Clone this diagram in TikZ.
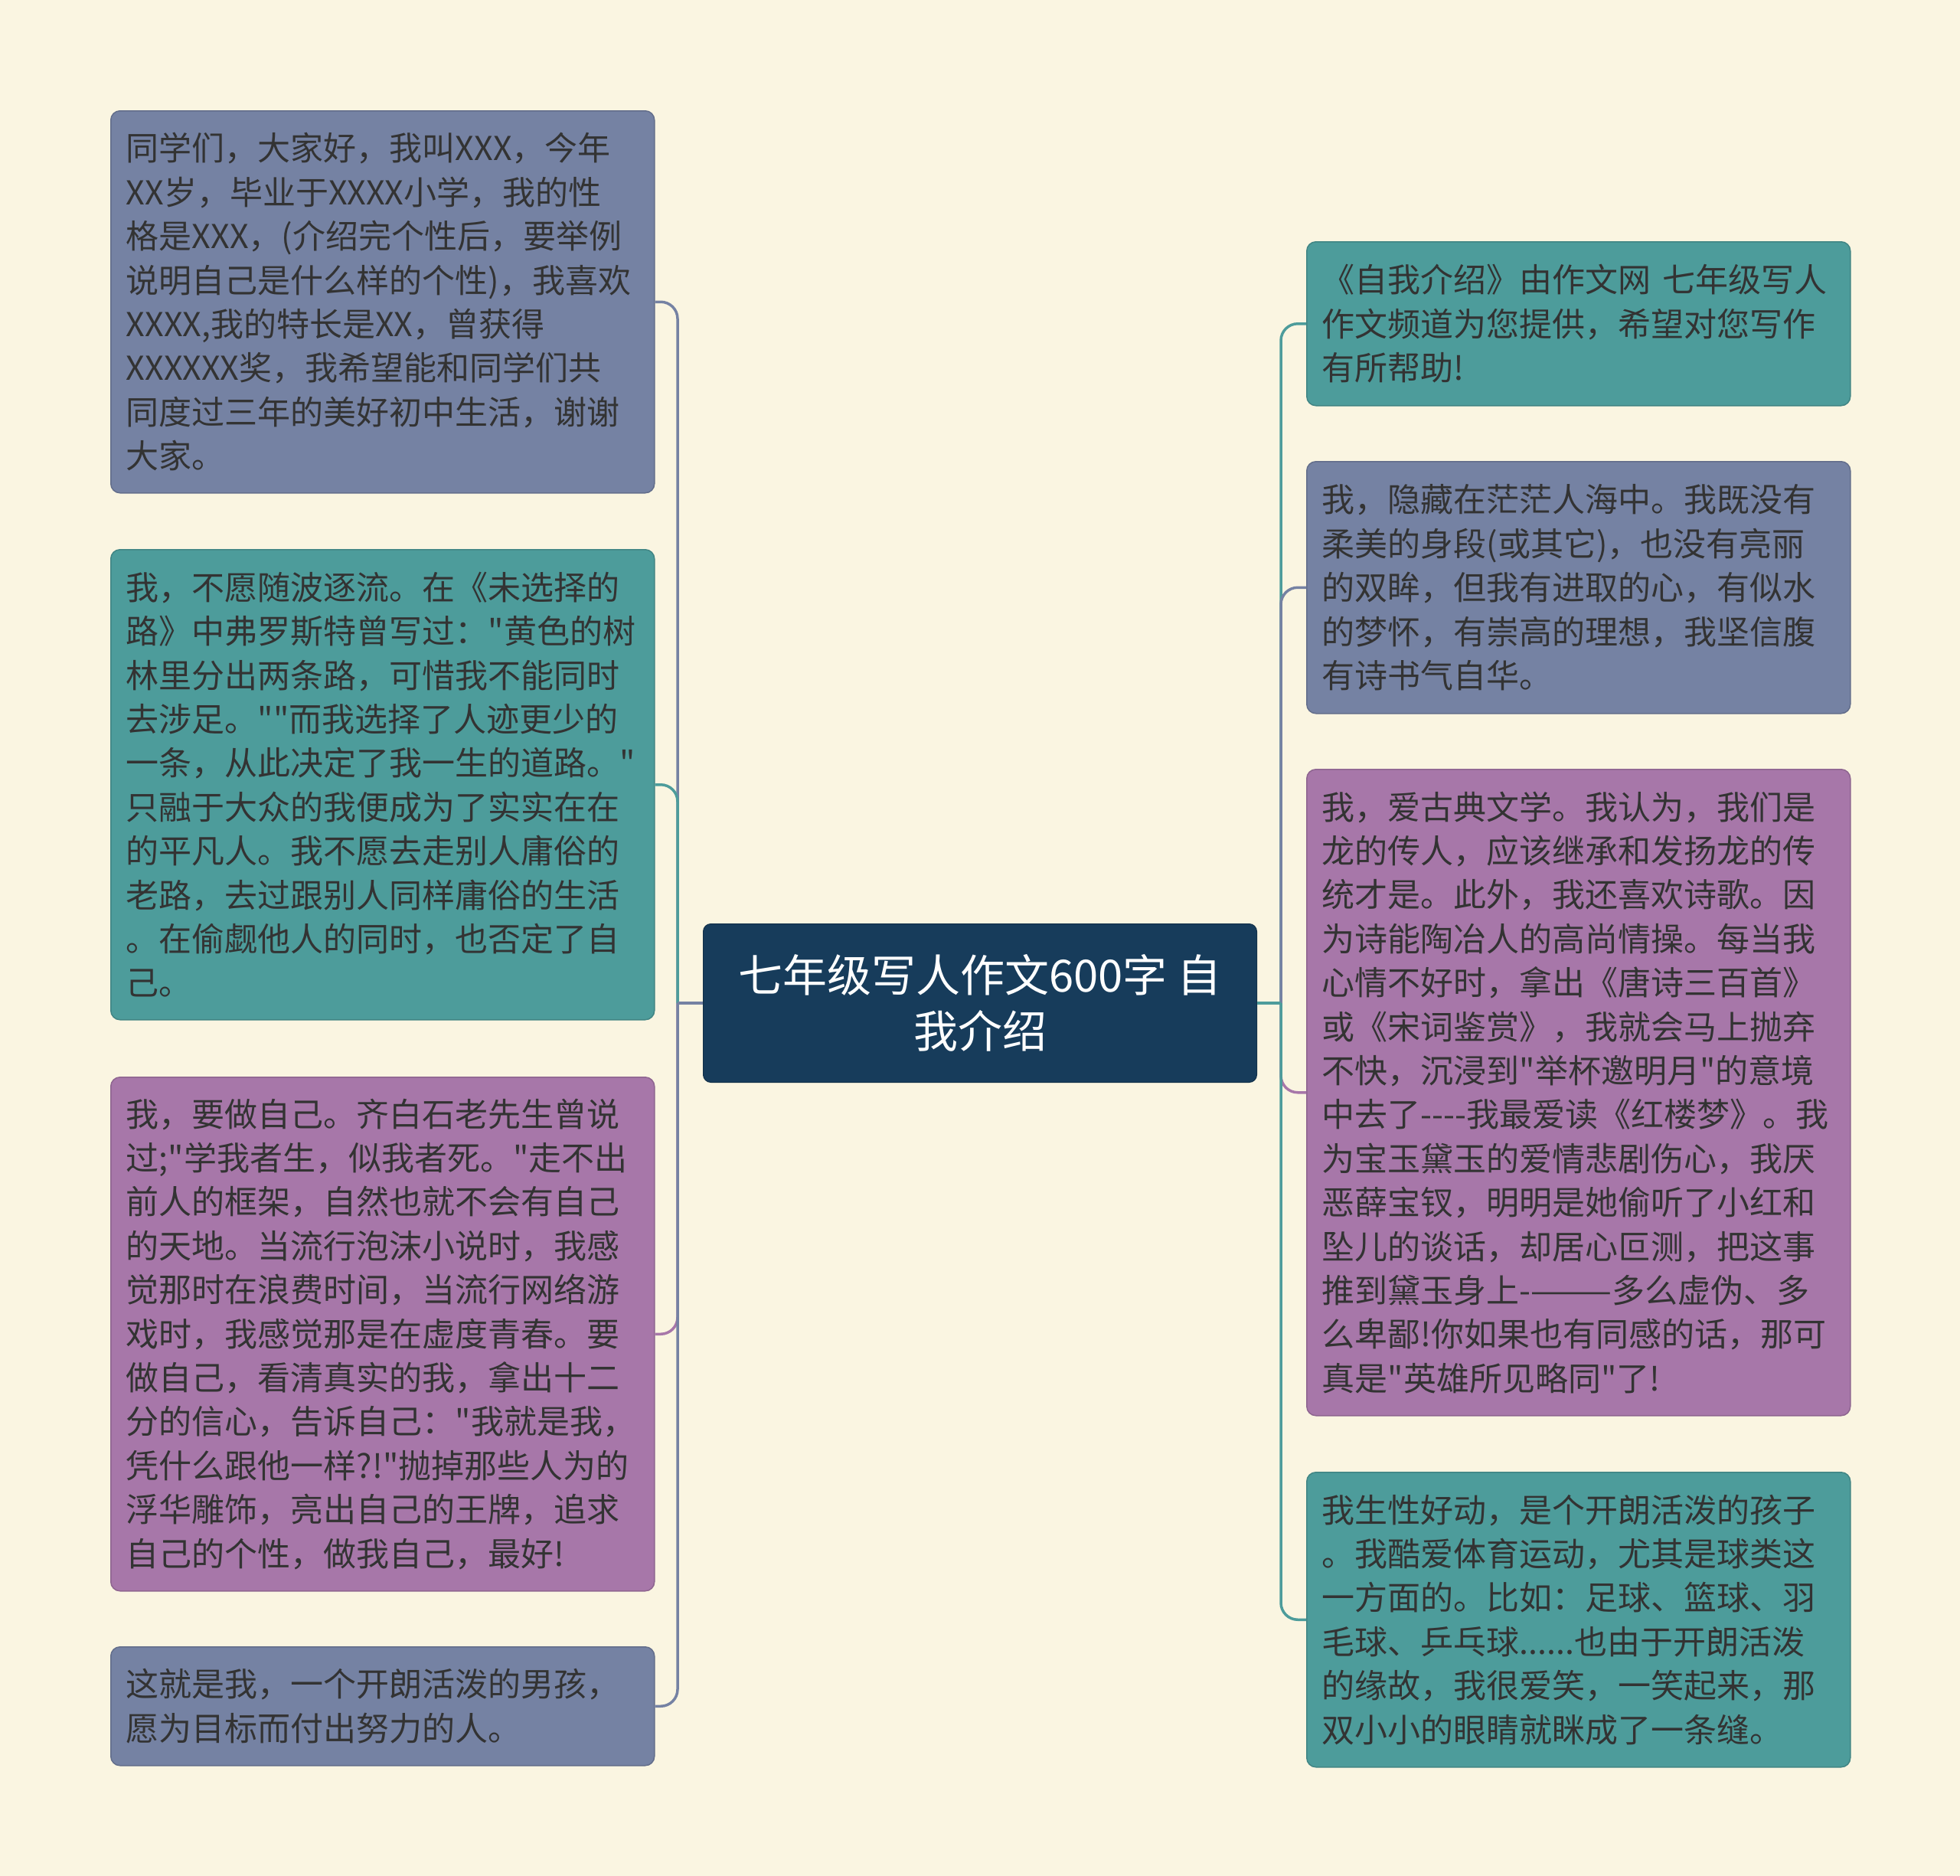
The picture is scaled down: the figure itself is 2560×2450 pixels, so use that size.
\documentclass[tikz,border=0pt]{standalone}
\usepackage{fontspec}
\newfontfamily\cjk{Noto Sans CJK SC}
\definecolor{bg}{HTML}{FAF5E1}
\definecolor{rootblue}{HTML}{173C5B}
\definecolor{cblue}{HTML}{7582A3}
\definecolor{cteal}{HTML}{4D9C9B}
\definecolor{cpurple}{HTML}{A777A9}
\definecolor{txt}{HTML}{333333}

\begin{document}
\begin{tikzpicture}[x=1pt, y=-1pt,
	topic/.style={fill=rootblue, draw=rootblue!80!black, line width=1pt, rounded corners=10pt, text=white, align=center, minimum width=723pt, minimum height=207pt, inner sep=0pt, font=\cjk\fontsize{58}{73}\selectfont},
	leaf/.style={fill=#1, draw=#1!85!black, line width=1.5pt, rounded corners=12pt, text=txt, align=left, text width=670pt, inner xsep=20pt, inner ysep=0pt, anchor=north west, font=\cjk\fontsize{43}{57.4}\selectfont},
	link/.style={line width=3.5pt, rounded corners=22pt}]

	  \fill [ bg ] (0,0) rectangle (2560,2450);

	  \node [ topic ] (root) at (1280,1310) {七年级写人作文600字 自\\我介绍};
	  \coordinate (jl) at (885,1310);
	  \coordinate (jr) at (1673,1310);

	  \node [ leaf=cblue, minimum height=499pt ] (L1) at (144,144) {同学们，大家好，我叫XXX，今年\\XX岁，毕业于XXXX小学，我的性\\格是XXX，(介绍完个性后，要举例\\说明自己是什么样的个性)，我喜欢\\XXXX,我的特长是XX，曾获得\\XXXXXX奖，我希望能和同学们共\\同度过三年的美好初中生活，谢谢\\大家。};
	  \node [ leaf=cteal, minimum height=614pt ] (L2) at (144,717) {我，不愿随波逐流。在《未选择的\\路》中弗罗斯特曾写过："黄色的树\\林里分出两条路，可惜我不能同时\\去涉足。""而我选择了人迹更少的\\一条，从此决定了我一生的道路。"\\只融于大众的我便成为了实实在在\\的平凡人。我不愿去走别人庸俗的\\老路，去过跟别人同样庸俗的生活\\。在偷觑他人的同时，也否定了自\\己。};
	  \node [ leaf=cpurple, minimum height=671pt ] (L3) at (144,1406) {我，要做自己。齐白石老先生曾说\\过;"学我者生，似我者死。"走不出\\前人的框架，自然也就不会有自己\\的天地。当流行泡沫小说时，我感\\觉那时在浪费时间，当流行网络游\\戏时，我感觉那是在虚度青春。要\\做自己，看清真实的我，拿出十二\\分的信心，告诉自己："我就是我，\\凭什么跟他一样?!"抛掉那些人为的\\浮华雕饰，亮出自己的王牌，追求\\自己的个性，做我自己，最好!};
	  \node [ leaf=cblue, minimum height=155pt ] (L4) at (144,2150) {这就是我，一个开朗活泼的男孩，\\愿为目标而付出努力的人。};

	  \node [ leaf=cteal, minimum height=214pt ] (R1) at (1706,315) {《自我介绍》由作文网 七年级写人\\作文频道为您提供，希望对您写作\\有所帮助!};
	  \node [ leaf=cblue, minimum height=329pt ] (R2) at (1706,602) {我，隐藏在茫茫人海中。我既没有\\柔美的身段(或其它)，也没有亮丽\\的双眸，但我有进取的心，有似水\\的梦怀，有崇高的理想，我坚信腹\\有诗书气自华。};
	  \node [ leaf=cpurple, minimum height=844pt ] (R3) at (1706,1004) {我，爱古典文学。我认为，我们是\\龙的传人，应该继承和发扬龙的传\\统才是。此外，我还喜欢诗歌。因\\为诗能陶冶人的高尚情操。每当我\\心情不好时，拿出《唐诗三百首》\\或《宋词鉴赏》，我就会马上抛弃\\不快，沉浸到"举杯邀明月"的意境\\中去了-{}-{}-{}-我最爱读《红楼梦》。我\\为宝玉黛玉的爱情悲剧伤心，我厌\\恶薛宝钗，明明是她偷听了小红和\\坠儿的谈话，却居心叵测，把这事\\推到黛玉身上-———多么虚伪、多\\么卑鄙!你如果也有同感的话，那可\\真是"英雄所见略同"了!};
	  \node [ leaf=cteal, minimum height=385pt ] (R4) at (1706,1922) {我生性好动，是个开朗活泼的孩子\\。我酷爱体育运动，尤其是球类这\\一方面的。比如：足球、篮球、羽\\毛球、乒乓球......也由于开朗活泼\\的缘故，我很爱笑，一笑起来，那\\双小小的眼睛就眯成了一条缝。};

	  \draw [ link, cblue ] (jl) |- (L1.east);
	  \draw [ link, cteal ] (jl) |- (L2.east);
	  \draw [ link, cpurple ] (jl) |- (L3.east);
	  \draw [ link, cblue ] (jl) |- (L4.east);
	  \draw [ link, cblue ] (root.west) -- (jl);

	  \draw [ link, cteal ] (jr) |- (R1.west);
	  \draw [ link, cblue ] (jr) |- (R2.west);
	  \draw [ link, cpurple ] (jr) |- (R3.west);
	  \draw [ link, cteal ] (jr) |- (R4.west);
	  \draw [ link, cteal ] (root.east) -- (jr);

\end{tikzpicture}
\end{document}
